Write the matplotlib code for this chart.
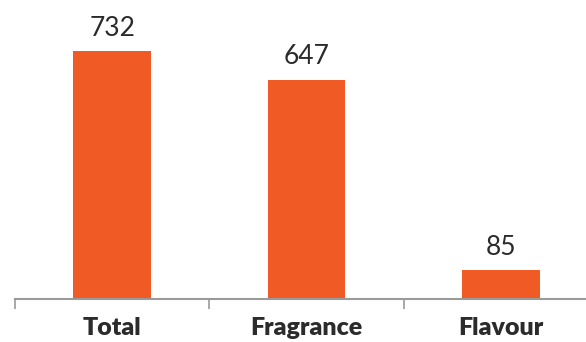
import matplotlib.pyplot as plt

# category counts
categories = ["Total", "Fragrance", "Flavour"]
counts = [732, 647, 85]

plt.rcParams["font.family"] = ["Lato", "DejaVu Sans"]

fig = plt.figure(figsize=(5.86, 3.42), dpi=100)
ax = fig.add_axes([15 / 586, 43 / 342, 583 / 586, 299 / 342])

x = range(len(categories))
bars = ax.bar(x, counts, width=0.4, color="#F05A24")

for b, v in zip(bars, counts):
    ax.text(b.get_x() + b.get_width() / 2, v + 30, str(v),
            ha="center", va="bottom", fontsize=19, color="#2b2b2b")

ax.set_xlim(-0.5, 2.5)
ax.set_ylim(0, 882)

ax.set_xticks(list(x))
ax.set_xticklabels(categories, fontsize=18, fontweight="heavy", color="#2b2b2b")
ax.tick_params(axis="x", which="major", length=0, pad=13)
ax.set_xticks([-0.5, 0.5, 1.5, 2.5], minor=True)
ax.tick_params(axis="x", which="minor", length=7, width=1.2, color="#9a9a9a")

ax.set_yticks([])
for s in ["top", "right", "left"]:
    ax.spines[s].set_visible(False)
ax.spines["bottom"].set_color("#9a9a9a")
ax.spines["bottom"].set_linewidth(1.5)

fig.savefig("out.png", dpi=100)
